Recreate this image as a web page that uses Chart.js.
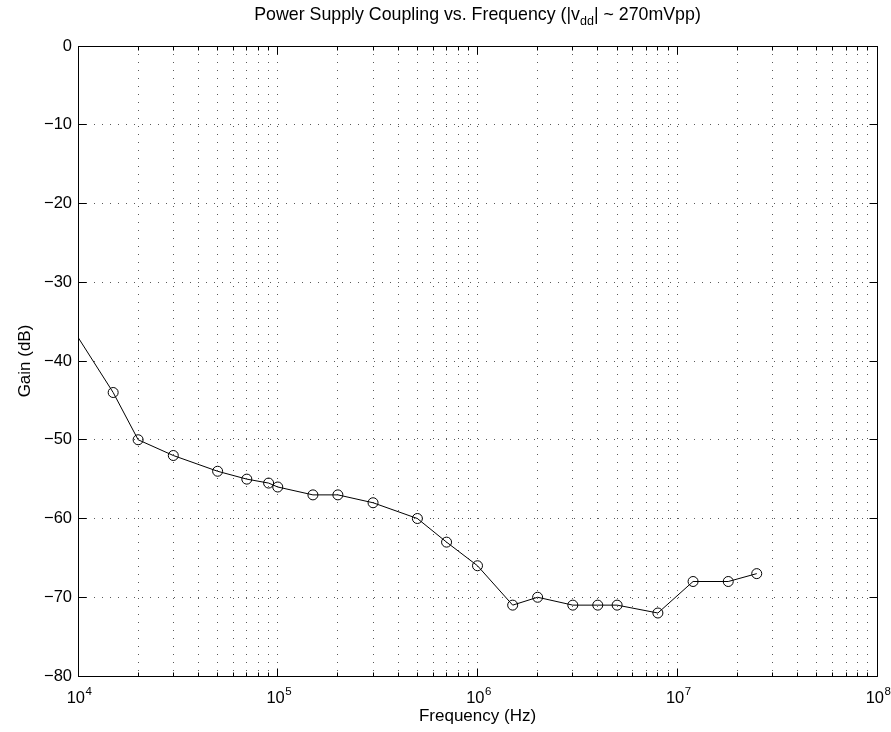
<!DOCTYPE html>
<html>
<head>
<meta charset="utf-8">
<title>Power Supply Coupling vs. Frequency</title>
<script src="https://cdn.jsdelivr.net/npm/chart.js@4/dist/chart.umd.min.js"></script>
<style>
  html, body { margin: 0; padding: 0; background: #fff; }
  #wrap { width: 891px; height: 732px; }
</style>
</head>
<body>
<div id="wrap"><canvas id="chart" width="891" height="732"></canvas></div>
<script>
// Measured coupling: frequency (Hz) and gain (dB)
const frequencyHz = [5e3, 1.5e4, 2e4, 3e4, 5e4, 7e4, 9e4, 1e5, 1.5e5, 2e5, 3e5, 5e5, 7e5,
                     1e6, 1.5e6, 2e6, 3e6, 4e6, 5e6, 8e6, 1.2e7, 1.8e7, 2.5e7];
const gainDb = [-25, -44, -50, -52, -54, -55, -55.5, -56, -57, -57, -58, -60, -63,
                -66, -71, -70, -71, -71, -71, -72, -68, -68, -67];

// Axis ticks
const decadeTicks = [1e4, 1e5, 1e6, 1e7, 1e8];
const decadeExponents = ['4', '5', '6', '7', '8'];
const minorMultipliers = [2, 3, 4, 5, 6, 7, 8, 9];
const gainTicks = [0, -10, -20, -30, -40, -50, -60, -70, -80];

const FONT = '"Liberation Sans", Arial, Helvetica, sans-serif';

// every x tick position: decades plus 2..9 within each decade
const xTickValues = [];
decadeTicks.forEach((d, i) => {
  xTickValues.push(d);
  if (i < decadeTicks.length - 1) minorMultipliers.forEach(m => xTickValues.push(d * m));
});

function align(chart, px) {
  return Math.round(px - 0.5) + 0.5;
}

// box frame, inward tick marks, title with subscript, 10^n labels
const axesDecor = {
  id: 'axesDecor',
  afterDraw(chart) {
    const { ctx, chartArea: a, scales: { x, y } } = chart;
    const L = align(chart, a.left), R = align(chart, a.right);
    const T = align(chart, a.top), B = align(chart, a.bottom);
    ctx.save();
    ctx.strokeStyle = '#000';
    ctx.lineWidth = 1;
    ctx.setLineDash([]);
    ctx.beginPath();
    ctx.rect(L, T, R - L, B - T);
    // x ticks on bottom and top
    xTickValues.forEach(v => {
      const px = align(chart, x.getPixelForValue(v));
      const len = decadeTicks.includes(v) ? 8 : 4;
      ctx.moveTo(px, B); ctx.lineTo(px, B - len);
      ctx.moveTo(px, T); ctx.lineTo(px, T + len);
    });
    // y ticks on left and right
    gainTicks.forEach(v => {
      const py = align(chart, y.getPixelForValue(v));
      ctx.moveTo(L, py); ctx.lineTo(L + 8, py);
      ctx.moveTo(R, py); ctx.lineTo(R - 8, py);
    });
    ctx.stroke();

    // decade labels: "10" with raised exponent
    ctx.fillStyle = '#000';
    ctx.textBaseline = 'alphabetic';
    ctx.textAlign = 'left';
    decadeTicks.forEach((v, i) => {
      const px = x.getPixelForValue(v);
      ctx.font = '16.5px ' + FONT;
      const wb = ctx.measureText('10').width;
      ctx.font = '11.5px ' + FONT;
      const we = ctx.measureText(decadeExponents[i]).width;
      const x0 = px - (wb + we) / 2 + 1;
      ctx.font = '16.5px ' + FONT;
      ctx.fillText('10', x0, 703);
      ctx.font = '11.5px ' + FONT;
      ctx.fillText(decadeExponents[i], x0 + wb + 0.5, 695);
    });

    // title with subscripted "dd"
    const parts = [
      { t: 'Power Supply Coupling vs. Frequency (|v', size: 17.8, dy: 0 },
      { t: 'dd', size: 12.5, dy: 5 },
      { t: '| ~ 270mVpp)', size: 17.8, dy: 0 }
    ];
    let total = 0;
    parts.forEach(p => { ctx.font = p.size + 'px ' + FONT; p.w = ctx.measureText(p.t).width; total += p.w; });
    let cx = (a.left + a.right) / 2 - total / 2;
    parts.forEach(p => {
      ctx.font = p.size + 'px ' + FONT;
      ctx.fillText(p.t, cx, 20 + p.dy);
      cx += p.w;
    });
    ctx.restore();
  }
};

const gridStyle = { color: 'rgba(0,0,0,0.65)', lineWidth: 1, drawTicks: false };

new Chart(document.getElementById('chart'), {
  type: 'line',
  data: {
    labels: frequencyHz,
    datasets: [{
      data: frequencyHz.map((f, i) => ({ x: f, y: gainDb[i] })),
      borderColor: '#000',
      borderWidth: 1,
      tension: 0,
      pointStyle: 'circle',
      pointRadius: 5,
      pointBorderWidth: 1,
      pointBorderColor: '#000',
      pointBackgroundColor: 'rgba(0,0,0,0)',
      pointHoverRadius: 5
    }]
  },
  options: {
    responsive: false,
    devicePixelRatio: 1,
    animation: false,
    layout: { padding: { top: 46, right: 14, bottom: 0, left: 0 } },
    plugins: { legend: { display: false }, tooltip: { enabled: false }, title: { display: false } },
    scales: {
      x: {
        type: 'logarithmic',
        min: 1e4,
        max: 1e8,
        afterBuildTicks: s => { s.ticks = xTickValues.map(v => ({ value: v, major: decadeTicks.includes(v) })); },
        ticks: { display: false },
        grid: gridStyle,
        border: { display: false, dash: [1, 7] },
        title: {
          display: true, text: 'Frequency (Hz)', color: '#000',
          font: { family: FONT, size: 17 }, padding: { top: 0, bottom: 5 }
        },
        afterFit: s => { s.height = 56; }
      },
      y: {
        type: 'linear',
        min: -80,
        max: 0,
        afterBuildTicks: s => { s.ticks = gainTicks.map(v => ({ value: v })); },
        ticks: {
          color: '#000', padding: 6,
          font: { family: FONT, size: 16.5 },
          callback: v => (v < 0 ? '\u2212' + Math.abs(v) : String(v))
        },
        grid: gridStyle,
        border: { display: false, dash: [1, 7] },
        title: {
          display: true, text: 'Gain (dB)', color: '#000',
          font: { family: FONT, size: 17 }, padding: { top: 15, bottom: 0 }
        },
        afterFit: s => { s.width = 78; }
      }
    }
  },
  plugins: [axesDecor]
});
</script>
</body>
</html>
